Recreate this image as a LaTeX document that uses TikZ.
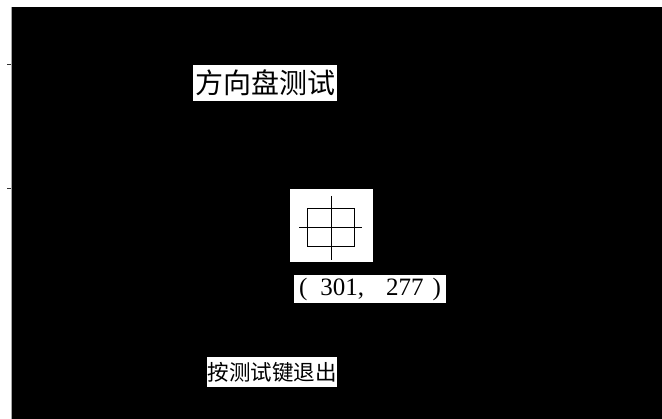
\documentclass[tikz,border=0pt]{standalone}
\usepackage{fontspec}
\newfontfamily\cjk{Noto Sans CJK SC}
\newfontfamily\numfont{Liberation Serif}
\begin{document}
\begin{tikzpicture}[x=1pt,y=-1pt,
  label box/.style={fill=white, inner sep=0pt, text=black, anchor=center},
  thin line/.style={draw=black, line width=1pt}]
\useasboundingbox (0,0) rectangle (662,419);
% black screen
\fill[black] (11,7) rectangle (662,419);
\draw[gray!70, line width=1pt] (11,7) -- (11,419);
\coordinate (t1a) at (7,64);
\coordinate (t1b) at (11,64);
\coordinate (t2a) at (7,188);
\coordinate (t2b) at (11,188);
\draw[black!80, line width=0.8pt] (t1a) -- (t1b);
\draw[black!80, line width=0.8pt] (t2a) -- (t2b);
% title
\node[label box, minimum width=144pt, minimum height=36pt] (title) at (265,83)
  {\cjk\fontsize{28pt}{28pt}\selectfont 方向盘测试};
% crosshair box
\node[label box, minimum width=83pt, minimum height=73pt] (cross) at (331.5,225.5) {};
\coordinate (rA) at (307,209);
\coordinate (rB) at (354,247);
\draw[black, line width=1pt] (rA) rectangle (rB);
\coordinate (vT) at (331,196);
\coordinate (vB) at (331,260);
\coordinate (hL) at (299,228);
\coordinate (hR) at (362,228);
\draw[black, line width=1pt] (vT) -- (vB);
\draw[black, line width=1pt] (hL) -- (hR);
% coordinate readout
\node[label box, minimum width=152pt, minimum height=28pt] (coord) at (370,289)
  {\numfont\fontsize{25pt}{25pt}\selectfont (\hspace{13pt}301,\hspace{22pt}277\hspace{9pt})};
% exit hint
\node[label box, minimum width=130pt, minimum height=30pt] (hint) at (272,372)
  {\cjk\fontsize{21.5pt}{21.5pt}\selectfont 按测试键退出};
\end{tikzpicture}
\end{document}
